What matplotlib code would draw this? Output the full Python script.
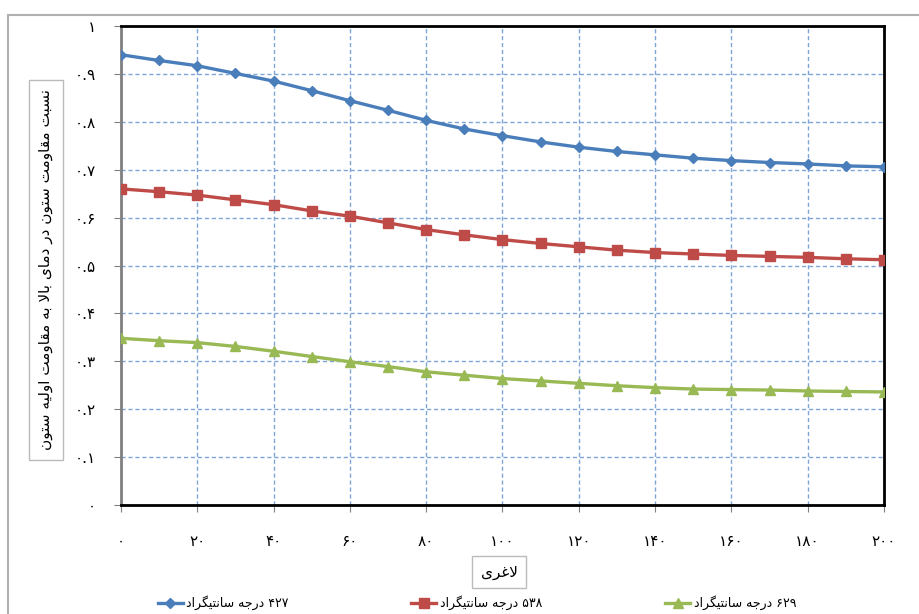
import numpy as np
import matplotlib
matplotlib.use("Agg")
import matplotlib.pyplot as plt
from matplotlib.patches import Rectangle
from matplotlib.lines import Line2D

# ---- data ----
slenderness = [0, 10, 20, 30, 40, 50, 60, 70, 80, 90, 100,
               110, 120, 130, 140, 150, 160, 170, 180, 190, 200]
ratio_427 = [0.940, 0.928, 0.917, 0.901, 0.885, 0.865, 0.844, 0.824, 0.803, 0.785, 0.771,
             0.758, 0.747, 0.738, 0.731, 0.724, 0.719, 0.715, 0.712, 0.708, 0.706]
ratio_538 = [0.660, 0.654, 0.647, 0.637, 0.627, 0.614, 0.603, 0.589, 0.575, 0.564, 0.554,
             0.546, 0.539, 0.532, 0.527, 0.524, 0.521, 0.519, 0.517, 0.514, 0.512]
ratio_629 = [0.348, 0.343, 0.339, 0.331, 0.321, 0.310, 0.299, 0.289, 0.278, 0.271, 0.264,
             0.259, 0.254, 0.249, 0.245, 0.242, 0.241, 0.240, 0.238, 0.237, 0.236]

series_labels = ["۴۲۷ درجه سانتیگراد", "۵۳۸ درجه سانتیگراد", "۶۲۹ درجه سانتیگراد"]
x_title = "لاغری"
y_title = "نسبت مقاومت ستون در دمای بالا به مقاومت اولیه ستون"
x_ticks = list(range(0, 201, 20))
y_ticks = [i / 10 for i in range(11)]

# ---- minimal Persian shaping (matplotlib has no bidi / joining) ----
FORMS = {  # isolated, final, initial, medial
    "ا": (0xFE8D, 0xFE8E, None, None),
    "ب": (0xFE8F, 0xFE90, 0xFE91, 0xFE92),
    "ت": (0xFE95, 0xFE96, 0xFE97, 0xFE98),
    "ج": (0xFE9D, 0xFE9E, 0xFE9F, 0xFEA0),
    "د": (0xFEA9, 0xFEAA, None, None),
    "ر": (0xFEAD, 0xFEAE, None, None),
    "س": (0xFEB1, 0xFEB2, 0xFEB3, 0xFEB4),
    "غ": (0xFECD, 0xFECE, 0xFECF, 0xFED0),
    "ق": (0xFED5, 0xFED6, 0xFED7, 0xFED8),
    "گ": (0xFB92, 0xFB93, 0xFB94, 0xFB95),
    "ل": (0xFEDD, 0xFEDE, 0xFEDF, 0xFEE0),
    "م": (0xFEE1, 0xFEE2, 0xFEE3, 0xFEE4),
    "ن": (0xFEE5, 0xFEE6, 0xFEE7, 0xFEE8),
    "ه": (0xFEE9, 0xFEEA, 0xFEEB, 0xFEEC),
    "و": (0xFEED, 0xFEEE, None, None),
    "ی": (0xFBFC, 0xFBFD, 0xFBFE, 0xFBFF),
}
DIGITS = "۰۱۲۳۴۵۶۷۸۹"


def shape(text):
    out = []
    i = 0
    n = len(text)
    while i < n:
        c = text[i]
        if c not in FORMS:
            out.append(c)
            i += 1
            continue
        prev = text[i - 1] if i > 0 else ""
        joins_prev = prev in FORMS and FORMS[prev][2] is not None
        if c == "ل" and i + 1 < n and text[i + 1] == "ا":
            out.append(chr(0xFEFC if joins_prev else 0xFEFB))
            i += 2
            continue
        nxt = text[i + 1] if i + 1 < n else ""
        joins_next = FORMS[c][2] is not None and nxt in FORMS
        iso, fin, ini, med = FORMS[c]
        if joins_prev and joins_next:
            g = med
        elif joins_prev:
            g = fin
        elif joins_next:
            g = ini
        else:
            g = iso
        out.append(chr(g))
        i += 1
    vis = "".join(out)[::-1]
    # digit runs keep left-to-right order
    res, run = [], ""
    for ch in vis:
        if ch in DIGITS:
            run += ch
        else:
            if run:
                res.append(run[::-1])
                run = ""
            res.append(ch)
    if run:
        res.append(run[::-1])
    return "".join(res)


def fa_num(s):
    return "".join(DIGITS[int(ch)] if ch.isdigit() else ch for ch in s)


plt.rcParams["font.family"] = ["DejaVu Sans"]

fig = plt.figure(figsize=(9.2, 6.14), dpi=100)
ax = fig.add_axes([121 / 920, 1 - 505 / 614, 763 / 920, 479 / 614])

blue, red, green = "#4A7EBB", "#BE4B48", "#98B954"
ax.plot(slenderness, ratio_427, color=blue, lw=2.4, marker="D", ms=5.5, zorder=3)
ax.plot(slenderness, ratio_538, color=red, lw=2.4, marker="s", ms=7, zorder=3)
ax.plot(slenderness, ratio_629, color=green, lw=2.4, marker="^", ms=7.5, zorder=3)

ax.set_xlim(0, 200)
ax.set_ylim(0, 1)
ax.set_xticks(x_ticks)
ax.set_yticks(y_ticks)
ax.set_xticklabels([fa_num(str(v)) for v in x_ticks], fontsize=11)
ax.set_yticklabels([fa_num("1" if v == 1 else ("0" if v == 0 else f"0.{int(round(v * 10))}"))
                    for v in y_ticks], fontsize=11)
ax.tick_params(axis="x", length=5, pad=16, color="#808080")
ax.tick_params(axis="y", length=5, pad=13, color="#808080")
ax.grid(True, color="#7FA4D8", ls=(0, (3, 2)), lw=1.0)

for side in ["top", "right", "bottom"]:
    ax.spines[side].set_color("black")
    ax.spines[side].set_linewidth(2)
ax.spines["left"].set_color("#808080")
ax.spines["left"].set_linewidth(2)

# outer chart frame
fig.patches.append(Rectangle((8 / 920, -0.05), 1.2, 1 - 15 / 614 + 0.05,
                             transform=fig.transFigure, fill=False,
                             edgecolor="#B0B0B0", lw=1.5))

# axis titles in boxes
fig.text(46 / 920, 1 - 270 / 614, shape(y_title), rotation=90, ha="center", va="center",
         fontsize=11,
         bbox=dict(boxstyle="square,pad=0.65", fc="white", ec="#BBBBBB", lw=1))
fig.text(499 / 920, 1 - 572 / 614, shape(x_title), ha="center", va="center", fontsize=11,
         bbox=dict(boxstyle="square,pad=0.55", fc="white", ec="#BBBBBB", lw=1))

handles = [Line2D([], [], color=blue, lw=2.4, marker="D", ms=5.5),
           Line2D([], [], color=red, lw=2.4, marker="s", ms=7),
           Line2D([], [], color=green, lw=2.4, marker="^", ms=7.5)]
fig.legend(handles, [shape(s) for s in series_labels], loc="center",
           bbox_to_anchor=(477 / 920, 1 - 603 / 614), ncol=3, frameon=False,
           fontsize=9, columnspacing=9.8, handlelength=2.0, handletextpad=0.3)

fig.savefig("out.png", dpi=100)
